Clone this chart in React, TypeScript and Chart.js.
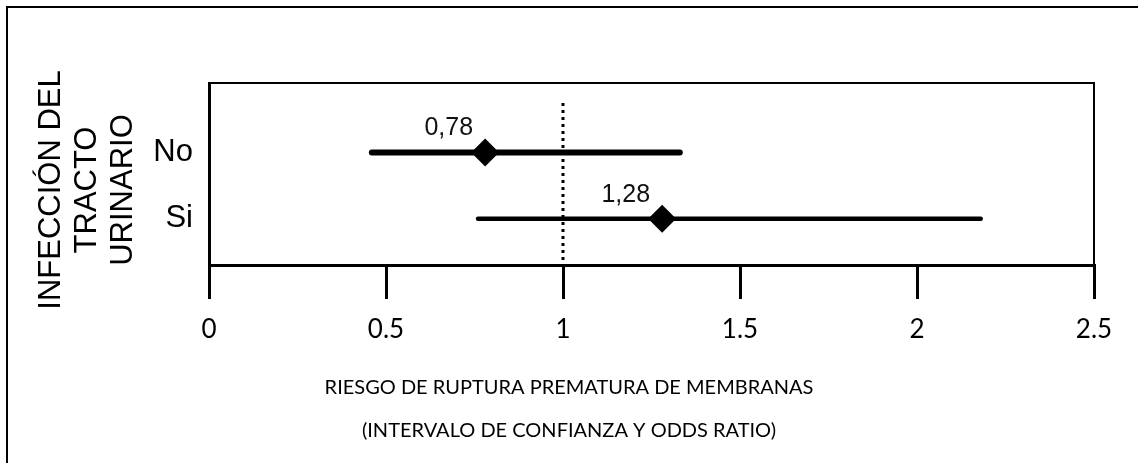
import React, { useEffect, useRef } from 'react';
import { Chart, registerables } from 'chart.js';

Chart.register(...registerables);

// ---- data ----
const categories = ['No', 'Si'];
const oddsRatios = [0.78, 1.28];
const ciLower = [0.46, 0.76];
const ciUpper = [1.33, 2.18];
const xTickValues = [0, 0.5, 1, 1.5, 2, 2.5];
const referenceValue = 1;
const yAxisTitle = ['INFECCIÓN DEL', 'TRACTO', 'URINARIO'];
const xAxisTitle = [
  'RIESGO DE RUPTURA PREMATURA DE MEMBRANAS',
  '(INTERVALO DE CONFIANZA Y ODDS RATIO)',
];

// ---- styles ----
const ciLineWidths = [6, 4.5];
const ARIAL = '"Liberation Sans", Arial, sans-serif';
const CALIBRI = 'Lato, "Open Sans", sans-serif';
const TITLE_SIZE = 20;
const TITLE_LINE = 43;

const formatOdds = (v: number) => String(v).replace('.', ',');

const decorPlugin = {
  id: 'decor',
  beforeDraw(chart: any) {
    const { ctx, width, height } = chart;
    ctx.save();
    ctx.strokeStyle = '#000';
    ctx.lineWidth = 2;
    ctx.beginPath();
    ctx.moveTo(7, height);
    ctx.lineTo(7, 7);
    ctx.lineTo(width, 7);
    ctx.stroke();
    ctx.restore();
  },
  beforeDatasetsDraw(chart: any) {
    const { ctx, chartArea, scales } = chart;
    const { left, right, top, bottom } = chartArea;
    ctx.save();
    ctx.strokeStyle = '#000';
    ctx.lineWidth = 2;
    ctx.beginPath();
    ctx.moveTo(left, top);
    ctx.lineTo(right, top);
    ctx.lineTo(right, bottom);
    ctx.stroke();
    const rx = scales.x.getPixelForValue(referenceValue);
    ctx.setLineDash([3, 4]);
    ctx.lineWidth = 3;
    ctx.beginPath();
    ctx.moveTo(rx, top + 20);
    ctx.lineTo(rx, bottom - 4);
    ctx.stroke();
    ctx.restore();
  },
  afterDatasetsDraw(chart: any) {
    const { ctx, scales } = chart;
    ctx.save();
    ctx.fillStyle = '#111';
    ctx.font = `25px ${ARIAL}`;
    ctx.textAlign = 'right';
    ctx.textBaseline = 'alphabetic';
    oddsRatios.forEach((v, i) => {
      const px = scales.x.getPixelForValue(v);
      const py = scales.y.getPixelForValue(i + 1);
      ctx.fillText(formatOdds(v), px - 12, py - 17);
    });
    ctx.restore();
  },
  afterDraw(chart: any) {
    // rotated, multi-line y-axis title
    const { ctx } = chart;
    ctx.save();
    ctx.fillStyle = '#000';
    ctx.font = `31px ${ARIAL}`;
    ctx.textAlign = 'center';
    ctx.textBaseline = 'middle';
    ctx.translate(51, 190);
    ctx.rotate(-Math.PI / 2);
    yAxisTitle.forEach((line, i) => {
      ctx.fillText(line, 0, i * 36);
    });
    ctx.restore();
  },
};

export default function App() {
  const canvasRef = useRef<HTMLCanvasElement | null>(null);

  useEffect(() => {
    const canvas = canvasRef.current;
    if (!canvas) return;

    const ciDatasets = categories.map((c, i) => ({
      label: `IC ${c}`,
      data: [
        { x: ciLower[i], y: i + 1 },
        { x: ciUpper[i], y: i + 1 },
      ],
      showLine: true,
      borderColor: '#000',
      borderWidth: ciLineWidths[i],
      borderCapStyle: 'round',
      pointRadius: 0,
      fill: false,
    }));

    const titleHeight = TITLE_LINE * xAxisTitle.length + 10.5;

    const chart = new Chart(canvas, {
      type: 'scatter',
      data: {
        datasets: [
          ...ciDatasets,
          {
            label: 'Odds ratio',
            data: oddsRatios.map((v, i) => ({ x: v, y: i + 1 })),
            pointStyle: 'rectRot',
            pointRadius: 14,
            backgroundColor: '#000',
            borderColor: '#000',
            borderWidth: 0,
          },
        ],
      } as any,
      options: {
        responsive: false,
        animation: false,
        events: [],
        layout: { padding: { left: 0, top: 83, right: 0, bottom: 0 } },
        plugins: {
          legend: { display: false },
          tooltip: { enabled: false },
          title: {
            display: true,
            position: 'bottom',
            text: xAxisTitle,
            color: '#000',
            font: { family: CALIBRI, size: TITLE_SIZE, weight: 'normal', lineHeight: TITLE_LINE / TITLE_SIZE },
            padding: { top: 0, bottom: 10.5 },
          },
        },
        scales: {
          x: {
            type: 'linear',
            position: 'bottom',
            min: 0,
            max: 2.5,
            afterBuildTicks: (scale: any) => {
              scale.ticks = xTickValues.map((v) => ({ value: v }));
            },
            afterFit: (scale: any) => {
              scale.height = 463 - 265 - titleHeight;
              scale.paddingRight = 1138 - 1094;
            },
            grid: {
              display: true,
              drawOnChartArea: false,
              drawTicks: true,
              tickLength: 34,
              lineWidth: 3,
              color: '#000',
            },
            border: { display: true, width: 3, color: '#000' },
            ticks: {
              color: '#000',
              padding: 15,
              font: { family: CALIBRI, size: 26 },
              callback: (v: any) => String(v),
            },
          },
          y: {
            type: 'linear',
            reverse: true,
            min: -0.05,
            max: 2.7,
            afterBuildTicks: (scale: any) => {
              scale.ticks = categories.map((_, i) => ({ value: i + 1 }));
            },
            afterFit: (scale: any) => {
              scale.width = 209;
            },
            grid: { display: false, drawTicks: false },
            border: { display: true, width: 3, color: '#000' },
            ticks: {
              color: '#000',
              padding: 16,
              font: { family: ARIAL, size: 31 },
              callback: (v: any) => categories[Math.round(Number(v)) - 1] ?? '',
            },
          },
        },
      } as any,
      plugins: [decorPlugin],
    });

    return () => chart.destroy();
  }, []);

  return (
    <div style={{ position: 'fixed', left: 0, top: 0, width: 1138, height: 463, background: '#fff' }}>
      <canvas ref={canvasRef} width={1138} height={463} style={{ display: 'block' }} />
    </div>
  );
}
